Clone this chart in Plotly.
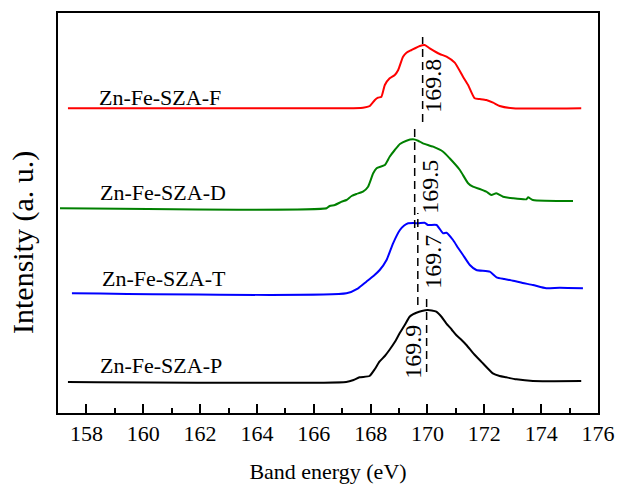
import plotly.graph_objects as go

# ---- data (intensity in arbitrary units, stacked) ----
samples = ["Zn-Fe-SZA-P", "Zn-Fe-SZA-T", "Zn-Fe-SZA-D", "Zn-Fe-SZA-F"]
colors = ["#000000", "#0000ff", "#008000", "#ff0000"]

energy_P = [157.35, 167.14, 167.40, 167.61, 167.96, 168.15, 168.31, 168.50, 168.66, 168.85, 169.02,
            169.20, 169.37, 169.50, 169.61, 169.80, 170.01, 170.15, 170.31, 170.50, 170.66, 170.85,
            171.01, 171.20, 171.37, 171.65, 171.95, 172.30, 172.54, 172.77, 173.13, 173.71, 175.41]
inten_P = [31, 31, 33, 35.7, 37, 44, 51.3, 57, 63, 71, 79.7,
           88, 96.3, 98.8, 100.3, 102, 103, 102.5, 101.3, 96, 89.7, 83.5,
           78, 73, 68, 58.5, 49.7, 39.7, 37, 35.7, 33.7, 32, 32]

energy_T = [157.49, 167.15, 167.56, 167.85, 168.10, 168.32, 168.56, 168.79, 169.03, 169.18, 169.32,
            169.50, 169.67, 169.90, 170.02, 170.32, 170.55, 170.67, 170.90, 171.08, 171.25, 171.49,
            171.72, 172.19, 172.43, 172.70, 173.01, 173.35, 173.71, 174.18, 174.65, 175.47]
inten_T = [119.7, 119.7, 124.7, 131.3, 137, 143, 153, 169.7, 183, 187.5, 189.7,
           190, 189.7, 190.3, 188, 188, 179.7, 180.3, 173, 165, 158, 148,
           143, 141.3, 135.7, 134, 132.3, 130, 128, 124.7, 125.3, 124.7]

energy_D = [157.07, 166.45, 166.56, 166.74, 166.98, 167.15, 167.33, 167.50, 167.73, 167.91,
            168.09, 168.21, 168.50, 168.67, 168.85, 169.03, 169.26, 169.49, 169.67, 169.84,
            170.20, 170.55, 170.78, 171.14, 171.43, 171.60, 171.84, 172.07, 172.25, 172.42,
            172.66, 173.01, 173.48, 173.54, 173.71, 175.12]
inten_D = [204.7, 204.7, 207, 208, 211.3, 213, 217, 219, 221.3, 226.3,
           239.7, 244.7, 248, 256.3, 263, 269, 272.3, 273.7, 272.3, 269.7,
           266.3, 261.3, 254.7, 243, 229.7, 226.3, 224, 221.3, 218, 219.7,
           216.3, 214.7, 213.7, 215.7, 213, 212]

energy_F = [157.35, 166.92, 167.73, 167.97, 168.15, 168.26, 168.38, 168.50, 168.67, 168.85,
            168.97, 169.14, 169.26, 169.44, 169.73, 169.90, 170.08, 170.43, 170.67, 170.96,
            171.25, 171.43, 171.66, 171.84, 172.07, 172.31, 172.54, 173.01, 175.41]
inten_F = [304.7, 304.7, 305.3, 307, 313, 315.3, 316.3, 328, 334.7, 338,
           343, 356.3, 360.3, 363, 367, 368, 364.7, 359, 356.3, 350.3,
           336.3, 328, 314.7, 314, 313, 310.3, 307, 304.7, 304.7]

energies = [energy_P, energy_T, energy_D, energy_F]
intensities = [inten_P, inten_T, inten_D, inten_F]

# peak markers
peak_text = ["169.9", "169.7", "169.5", "169.8"]
peak_x = [169.97, 169.66, 169.55, 169.83]
peak_y_low = [41, 108, 185, 291]
peak_y_high = [118, 200, 287, 376]
peak_label_x = [169.48, 170.19, 170.08, 170.19]
peak_label_y = [61, 151, 226, 327]

# sample label anchors
label_x = [158.41, 158.48, 158.41, 158.37]
label_y = [48, 135, 221, 316]

x_ticks = [158, 160, 162, 164, 166, 168, 170, 172, 174, 176]
x_minor = [159, 161, 163, 165, 167, 169, 171, 173, 175]

FONT = "Liberation Serif"

fig = go.Figure()
for e, i, c, n in zip(energies, intensities, colors, samples):
    fig.add_trace(go.Scatter(x=e, y=i, mode="lines",
                             line=dict(color=c, width=2, shape="spline", smoothing=0.5),
                             name=n, showlegend=False, hoverinfo="skip"))

for px, lo, hi in zip(peak_x, peak_y_low, peak_y_high):
    fig.add_trace(go.Scatter(x=[px, px], y=[lo, hi], mode="lines",
                             line=dict(color="black", width=1.5, dash="8px,5px"),
                             showlegend=False, hoverinfo="skip"))

annotations = []
for t, ax_, ay_ in zip(peak_text, peak_label_x, peak_label_y):
    annotations.append(dict(x=ax_, y=ay_, xref="x", yref="y", text=t, showarrow=False,
                            xanchor="center", yanchor="middle",
                            textangle=-90, font=dict(family=FONT, size=24, color="black")))
for n, lx, ly in zip(samples, label_x, label_y):
    annotations.append(dict(x=lx, y=ly, xref="x", yref="y", text=n, showarrow=False,
                            xanchor="left", yanchor="middle",
                            font=dict(family=FONT, size=22, color="black")))
annotations.append(dict(x=(23 - 58) / 540, y=(413 - 243) / 400, xref="paper", yref="paper",
                        xanchor="center", yanchor="middle",
                        text="Intensity (a. u.)", showarrow=False, textangle=-90,
                        font=dict(family=FONT, size=30, color="black")))

fig.update_layout(
    width=618, height=488,
    margin=dict(l=58, r=20, t=13, b=75, autoexpand=False),
    paper_bgcolor="white", plot_bgcolor="white",
    annotations=annotations,
)

fig.update_xaxes(range=[157, 176], tickvals=x_ticks, ticktext=[str(v) for v in x_ticks],
                 automargin=False,
                 ticks="inside", ticklen=9, tickwidth=1.5, tickcolor="black",
                 minor=dict(ticks="inside", ticklen=5, tickwidth=1.5, tickcolor="black",
                            tickvals=x_minor),
                 showline=True, linecolor="black", linewidth=2, mirror=True,
                 showgrid=False, zeroline=False,
                 tickfont=dict(family=FONT, size=22, color="black"),
                 title=dict(text="Band energy (eV)", font=dict(family=FONT, size=22, color="black"),
                            standoff=18))
fig.update_yaxes(range=[0, 400], showticklabels=False, ticks="", automargin=False,
                 showline=True, linecolor="black", linewidth=2, mirror=True,
                 showgrid=False, zeroline=False)

# remove the browser's default 8px page margin so the 618x488 figure fills the window exactly
fig.write_html("out.html", config={"displayModeBar": False},
               post_script="document.body.style.margin='0px';")
